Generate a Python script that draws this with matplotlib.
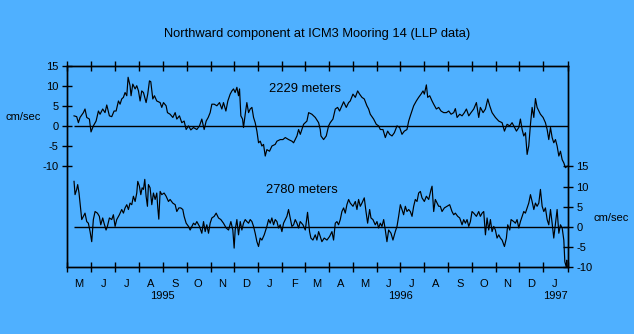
import datetime as dt
import numpy as np
import matplotlib.pyplot as plt
import matplotlib.dates as mdates
from matplotlib.ticker import FuncFormatter, NullFormatter

plt.rcParams['font.family'] = ['Liberation Sans', 'DejaVu Sans']
plt.rcParams['font.size'] = 8
plt.rcParams['axes.unicode_minus'] = False

BG = '#4fb0ff'

# northward velocity (cm/sec), time in days since 1 May 1995
upper_days = [8.6, 12.0, 14.2, 16.3, 20.6, 22.7, 24.9, 28.3, 30.4, 33.4, 36.9, 39.9, 42.0, 45.4,
              48.4, 50.6, 54.0, 57.0, 60.0, 62.6, 65.6, 67.7, 69.8, 72.0, 74.1, 76.3, 78.0, 80.5,
              81.8, 84.0, 87.0, 89.1, 91.3, 93.4, 95.5, 97.7, 101.1, 103.2, 105.4, 107.1, 109.7,
              111.8, 114.8, 119.1, 121.2, 123.4, 126.8, 128.5, 131.9, 135.4, 138.4, 140.5, 143.9,
              146.9, 149.9, 152.5, 155.5, 158.5, 161.9, 166.2, 169.6, 172.6, 175.6, 178.2, 180.8,
              183.3, 185.5, 188.5, 191.9, 195.3, 198.3, 200.4, 203.5, 206.0, 209.0, 211.2, 213.3,
              215.4, 217.6, 219.7, 221.0, 222.7, 224.9, 226.1, 228.3, 230.4, 232.6, 234.7, 236.9,
              239.0, 241.1, 243.3, 245.4, 247.6, 249.7, 251.8, 254.0, 256.1, 259.5, 262.6, 266.8,
              269.0, 273.3, 276.7, 279.7, 284.0, 288.2, 290.4, 294.7, 296.8, 299.0, 303.2, 307.5,
              309.7, 313.9, 318.2, 322.5, 324.6,
              325.5, 328.9, 332.3, 335.3, 337.4, 340.9, 343.9, 346.9, 349.4, 352.4, 354.6, 358.0,
              361.0, 363.1, 366.6, 369.6, 372.6, 375.1, 378.1, 381.1, 384.5, 386.7, 388.8, 393.1,
              396.5, 399.5, 401.7, 405.1, 408.1, 411.1, 413.7, 416.7, 419.7, 423.1, 426.5, 429.5,
              432.5, 435.9, 438.1, 440.2, 444.5, 447.9, 450.9, 453.9, 456.5, 458.2, 460.8, 462.5,
              465.1, 468.1, 470.2, 473.6, 476.6, 479.6, 483.0, 486.5, 489.5, 492.5, 495.9, 498.0,
              500.2, 503.6, 506.6, 509.6, 512.2, 515.2, 518.1, 521.6, 525.0, 528.0, 530.1, 533.6,
              536.6, 539.6, 542.1, 545.1, 549.4, 553.7, 558.0, 561.0, 564.4, 567.8, 570.8, 573.0,
              576.4, 579.4, 581.5, 583.7, 585.8, 588.0, 590.1, 592.2, 594.4, 596.5, 598.7, 600.8,
              602.9, 605.1, 607.2, 610.6, 613.6, 615.8, 617.9, 620.1, 622.2, 624.3, 626.5, 628.6,
              630.8, 632.9, 635.1, 637.2, 639.3, 641.5]
upper_vals = [2.6, 2.4, 0.9, 2.2, 3.4, 4.3, 2.2, 1.8, -1.4, 0.1, 1.3, 3.8, 3.0, 4.3,
              3.4, 5.3, 2.6, 2.4, 3.8, 3.8, 6.3, 5.5, 6.8, 7.2, 8.4, 7.6, 12.2, 10.1,
              7.6, 10.5, 9.3, 10.1, 8.8, 6.3, 8.8, 8.4, 5.9, 8.0, 11.3, 11.1, 6.8,
              7.6, 6.3, 5.9, 4.7, 5.9, 5.1, 3.4, 3.0, 2.2, 3.4, 1.8, 2.6,
              0.9, 1.3, -0.8, 0.1, -0.9, -0.3, -0.8, 0.1, 1.8, -0.8, 1.3, 2.2,
              3.4, 5.5, 5.5, 5.1, 5.9, 4.3, 5.9, 3.8, 6.3, 8.0, 8.8, 9.3,
              8.4, 9.7, 7.6, 9.3, 2.6, 1.8, -0.3, 3.0, 5.9, 3.4, 4.3, 4.7,
              2.2, 0.9, -1.2, -4.1, -3.7, -4.9, -4.5, -7.4, -5.8, -6.2, -4.9, -4.5,
              -3.7, -3.3, -3.3, -2.8, -3.3, -3.7, -4.1, -2.4, -0.8, -2.0, 0.5, 1.3,
              3.4, 3.0, 2.2, 0.9, -0.8,
              -2.4, -3.3, -2.4, 0.1, 0.9, 1.8, 4.3, 4.7, 3.8, 5.1, 6.1, 4.7,
              5.9, 6.3, 8.0, 7.2, 8.8, 8.0, 7.2, 6.8, 5.1, 4.3, 3.0, 1.8,
              0.5, 0.1, -0.8, -0.8, -2.8, -1.2, -2.0, -2.4, -1.6, 0.1, -0.3, -2.0,
              -1.2, -0.8, 1.3, 2.6, 5.1, 6.3, 7.2, 8.0, 8.8, 8.0, 10.3, 7.2,
              7.6, 6.3, 5.5, 4.3, 4.7, 3.8, 3.4, 3.4, 3.8, 3.0, 3.4, 4.4,
              2.2, 3.0, 2.6, 3.4, 4.3, 2.6, 3.4, 4.3, 5.9, 2.2, 4.7, 3.4,
              4.3, 6.8, 5.1, 3.4, 2.2, 1.3, 0.9, -1.2, 0.5, 0.1, 0.9, 0.1,
              -1.2, -0.3, 1.8, -0.8, -2.4, -1.6, -7.0, -4.9, 0.5, 4.7, 2.2, 6.9,
              4.7, 3.8, 3.0, 2.2, 0.9, -0.8, -3.3, -0.3, -2.8, -4.1, -3.3, -4.9,
              -7.4, -6.2, -8.3, -9.1, -10.3, -9.9]

lower_days = [8.6, 9.9, 12.0, 13.3, 15.0, 16.3, 18.5, 20.6, 22.7, 24.9, 27.0, 29.2, 31.3, 33.4,
              35.6, 38.6, 41.1, 42.9, 45.4, 47.1, 49.7, 51.4, 54.0, 57.0, 59.1, 61.3, 63.4, 66.8,
              69.8, 72.0, 74.1, 76.3, 78.4, 80.5, 82.7, 84.8, 87.0, 89.1, 90.4, 92.5, 94.3, 96.0,
              97.7, 99.4, 101.1, 102.8, 104.1, 106.2, 108.4, 110.5, 112.7, 114.8, 116.1, 117.4,
              119.1, 121.2, 124.2, 126.8, 129.8, 131.9, 135.3, 138.4, 140.5, 143.1, 145.6, 148.2,
              149.9, 152.5, 155.5, 157.6, 159.8, 161.9, 164.1, 166.2, 169.6, 172.6, 174.8, 176.9,
              179.0, 181.2, 183.3, 185.5, 188.5, 191.0, 194.0, 197.0, 200.4, 203.9, 206.9, 209.9,
              212.4, 214.1, 215.4, 217.6, 219.7, 221.9, 224.0, 226.1, 228.3, 230.4, 232.6, 234.7,
              236.9, 239.0, 241.1, 243.3, 245.4, 247.5, 249.7, 252.7, 256.1, 258.3, 260.4, 262.5,
              264.7, 266.8, 269.0, 271.1, 273.2, 275.4, 277.5, 279.7, 281.8, 283.9, 286.1, 288.2,
              290.4, 292.5, 294.7, 296.8, 298.9, 302.4, 305.4, 308.3, 310.9, 312.6, 315.2, 318.2,
              320.3, 322.5, 324.6,
              326.7, 329.7, 333.2, 336.6, 339.6, 341.7, 343.9, 346.0, 348.1, 350.3, 352.4, 354.6,
              356.7, 358.8, 361.0, 363.1, 366.6, 369.6, 371.7, 373.8, 376.0, 378.1, 381.1, 383.3,
              385.4, 388.0, 389.7, 392.2, 395.2, 397.4, 399.5, 401.7, 403.8, 406.0, 408.1, 410.2,
              412.4, 415.4, 417.9, 420.9, 423.1, 425.2, 427.4, 429.5, 431.6, 433.8, 435.9, 438.1,
              440.2, 442.4, 444.5, 446.6, 448.8, 450.9, 453.1, 455.2, 458.2, 460.8, 463.8, 466.8,
              468.1, 470.2, 472.3, 474.5, 476.6, 478.7, 480.9, 483.9, 487.3, 490.7, 493.7, 495.9,
              498.0, 501.0, 503.6, 506.6, 508.7, 510.9, 513.0, 515.2, 517.3, 519.4, 521.6, 525.0,
              528.0, 530.1, 532.3, 534.4, 536.6, 538.7, 540.8, 543.0, 545.1, 547.3, 549.4, 551.5,
              553.7, 555.8, 558.0, 561.0, 563.5, 565.2, 567.8, 569.5, 572.9, 575.1, 577.2, 579.4,
              581.5, 583.7, 585.8, 587.9, 590.1, 592.2, 594.4, 596.5, 598.7, 600.8, 602.9, 605.1,
              607.2, 609.4, 611.5, 613.6, 615.8, 617.9, 620.1, 622.2, 624.3, 626.5, 628.6, 630.8,
              632.9, 635.1, 637.2, 638.5, 640.2, 641.0, 641.8]
lower_vals = [11.3, 8.0, 9.3, 10.5, 8.4, 5.9, 1.8, 2.6, 3.4, 1.3, 0.9, -1.2, -3.7, 1.8,
              3.8, 3.4, 2.6, 0.5, 2.2, 0.9, -0.8, 0.1, 2.2, 1.8, 3.0, 0.1, 1.8, 3.0,
              4.3, 3.4, 4.7, 5.5, 4.3, 5.9, 5.5, 7.6, 6.3, 8.4, 11.3, 10.1, 8.0, 9.7,
              9.3, 11.8, 7.6, 5.1, 10.5, 9.7, 5.5, 8.4, 6.8, 8.4, 4.7, 1.9,
              8.8, 8.0, 8.4, 7.6, 6.3, 6.8, 5.9, 5.5, 3.8, 4.7, 4.7, 4.3,
              2.6, 0.9, 0.1, -0.8, 0.1, 0.9, 0.5, 1.3, 0.1, -1.6, 1.3, -1.2,
              0.5, -1.6, 0.9, 2.2, 2.6, 3.4, 2.2, 1.8, 0.9, -0.3, -0.8, 1.3,
              -0.8, -5.3, -0.8, 1.8, -2.0, 1.3, -0.8, 0.9, 1.8, 1.3, 0.9, 1.8,
              1.3, 0.1, -1.6, -3.7, -4.9, -2.8, -3.3, -2.0, 0.1, 1.8, 0.9, 2.2,
              0.5, 1.8, 1.3, -0.3, 0.5, -1.2, 0.9, 1.8, 2.6, 4.3, 2.2, 0.1,
              0.5, 1.8, 0.9, -0.3, 1.3, 0.5, -0.8, 3.6, -1.2, -2.8, -3.3, -2.0,
              -3.3, -1.2, -2.4,
              -3.7, -2.8, -3.3, -2.4, -1.2, -3.3, 0.9, 1.3, 0.5, 1.8, 3.8, 4.7,
              3.4, 5.5, 6.8, 5.9, 5.1, 6.3, 4.3, 6.8, 5.1, 5.9, 7.2, 3.8,
              0.9, 4.3, 2.2, 1.8, 0.5, 1.3, -0.3, 0.9, 0.1, 1.8, -0.8, -3.7,
              -0.8, -1.6, -3.3, -1.2, 0.1, 2.6, 5.5, 4.3, 3.0, 5.1, 3.8, 4.3,
              3.8, 2.6, 5.1, 6.8, 6.3, 8.4, 8.8, 7.2, 6.3, 7.6, 6.8, 9.3,
              10.1, 3.8, 6.8, 5.9, 5.1, 5.1, 3.8, 4.7, 5.1, 5.5, 3.8, 3.0,
              3.4, 2.6, 2.2, 0.5, 1.8, 0.9, 1.8, 0.1, 1.3, 3.8, 3.4, 2.6,
              3.8, 2.6, 3.4, 3.8, -2.0, 2.2, -0.8, 1.8, -1.2, 0.1, -0.8, -2.8,
              -2.0, -2.8, -3.3, -4.9, -2.8, 0.5, -0.8, 1.8, 1.3, 0.9, 1.8, -0.3,
              1.3, 2.6, 3.8, 3.4, 4.7, 5.9, 8.0, 6.3, 4.3, 5.9, 5.1, 5.9,
              9.3, 5.1, 3.8, 4.7, 1.8, 0.5, 4.3, 0.9, -2.8, 0.9, 4.3, -1.6,
              0.5, -0.3, -3.3, -8.7, -9.9, -8.3, -10.3]

series_names = ['2229 meters', '2780 meters']
title = 'Northward component at ICM3 Mooring 14 (LLP data)'
units = 'cm/sec'
years = [1995, 1996, 1997]

start = dt.datetime(1995, 5, 1)
end = dt.datetime(1997, 2, 1)
t0 = mdates.date2num(start)
t1 = mdates.date2num(end)

fig = plt.figure(figsize=(6.34, 3.34), dpi=100, facecolor=BG)
ax = fig.add_axes([0.1062, 0.2006, 0.789, 0.6018])
ax.set_facecolor(BG)
ax2 = ax.twinx()

# upper record on the left scale, lower record on the right scale
ax.plot(t0 + np.array(upper_days), upper_vals, color='black', lw=0.85)
ax2.plot(t0 + np.array(lower_days), lower_vals, color='black', lw=0.85)
ax.hlines(0, t0 + upper_days[0], t1, color='black', lw=1.0)
ax2.hlines(0, t0 + lower_days[0], t1, color='black', lw=1.0)

ax.set_xlim(t0, t1)
ax.set_ylim(-35, 15)
ax2.set_ylim(-10, 40)
ax.set_yticks(range(-10, 20, 5))
ax2.set_yticks(range(-10, 20, 5))

ax.xaxis.set_major_locator(mdates.MonthLocator())
ax.xaxis.set_major_formatter(NullFormatter())
ax.xaxis.set_minor_locator(mdates.MonthLocator(bymonthday=16))
ax.xaxis.set_minor_formatter(FuncFormatter(lambda x, pos: mdates.num2date(x).strftime('%b')[0]))

ax.tick_params(axis='x', which='major', direction='inout', length=7, width=1, top=True)
ax.tick_params(axis='x', which='minor', length=0, pad=8.5)
ax.tick_params(axis='y', direction='inout', length=7, width=1, pad=3)
ax2.tick_params(axis='y', direction='inout', length=7, width=1, pad=3)
for a in (ax, ax2):
    for s in a.spines.values():
        s.set_linewidth(1.0)

# year under the middle of its visible stretch
for yr in years:
    a = mdates.date2num(max(start, dt.datetime(yr, 1, 1)))
    b = mdates.date2num(min(end, dt.datetime(yr + 1, 1, 1)))
    ax.text((a + b) / 2, -0.144, str(yr), transform=ax.get_xaxis_transform(),
            ha='center', va='center')

ax.text(t0 + 305, 9.4, series_names[0], ha='center', va='center', fontsize=9.3)
ax2.text(t0 + 301, 9.1, series_names[1], ha='center', va='center', fontsize=9.3)

fig.text(0.5, 1 - 34 / 334, title, ha='center', va='center', fontsize=9.3)
fig.text(6 / 634, 1 - 117 / 334, units, ha='left', va='center')
fig.text(593 / 634, 1 - 218 / 334, units, ha='left', va='center')

fig.savefig('out.png', dpi=100, facecolor=BG)
